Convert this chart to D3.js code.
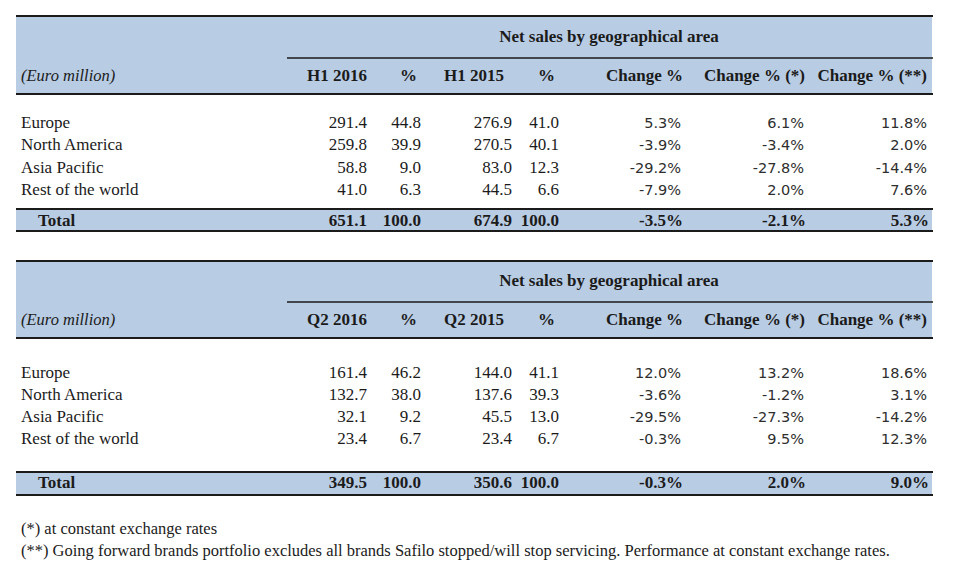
<!DOCTYPE html>
<html>
<head>
<meta charset="utf-8">
<script src="https://cdn.jsdelivr.net/npm/d3@7"></script>
<style>
  html, body { margin: 0; padding: 0; background: #fff; }
  svg { display: block; }
</style>
</head>
<body>
<svg id="chart" width="954" height="572"></svg>
<script>
// ---------------- DATA ----------------
const regions = ["Europe", "North America", "Asia Pacific", "Rest of the world"];
const columnKeys = ["cur", "curPct", "prev", "prevPct", "chg", "chgConst", "chgFwd"];
const title = "Net sales by geographical area";
const unitLabel = "(Euro million)";

const h1Headers = ["H1 2016", "%", "H1 2015", "%", "Change %", "Change % (*)", "Change % (**)"];
const h1Sales2016 = [291.4, 259.8, 58.8, 41.0];
const h1Pct2016 = [44.8, 39.9, 9.0, 6.3];
const h1Sales2015 = [276.9, 270.5, 83.0, 44.5];
const h1Pct2015 = [41.0, 40.1, 12.3, 6.6];
const h1Change = [5.3, -3.9, -29.2, -7.9];
const h1ChangeConst = [6.1, -3.4, -27.8, 2.0];
const h1ChangeFwd = [11.8, 2.0, -14.4, 7.6];
const h1Total = [651.1, 100.0, 674.9, 100.0, -3.5, -2.1, 5.3];

const q2Headers = ["Q2 2016", "%", "Q2 2015", "%", "Change %", "Change % (*)", "Change % (**)"];
const q2Sales2016 = [161.4, 132.7, 32.1, 23.4];
const q2Pct2016 = [46.2, 38.0, 9.2, 6.7];
const q2Sales2015 = [144.0, 137.6, 45.5, 23.4];
const q2Pct2015 = [41.1, 39.3, 13.0, 6.7];
const q2Change = [12.0, -3.6, -29.5, -0.3];
const q2ChangeConst = [13.2, -1.2, -27.3, 9.5];
const q2ChangeFwd = [18.6, 3.1, -14.2, 12.3];
const q2Total = [349.5, 100.0, 350.6, 100.0, -0.3, 2.0, 9.0];

const footnotes = [
  "(*) at constant exchange rates",
  "(**) Going forward brands portfolio excludes all brands Safilo stopped/will stop servicing. Performance at constant exchange rates."
];

// ---------------- LAYOUT ----------------
const svg = d3.select("#chart");
const W = 954;
const tableLeft = 16, tableRight = 933, subLineLeft = 287;
const blue = "#b8cce4", ink = "#1b1b1b", sansInk = "#2e2e2e";
const serif = "'Liberation Serif', 'Times New Roman', serif";
const sans = "'DejaVu Sans', Verdana, sans-serif";

const loc = d3.formatLocale({decimal: ".", thousands: ",", grouping: [3], currency: ["", ""], minus: "-"});
const f1 = loc.format(".1f");
const fPct = v => f1(v) + "%";

const colX = d3.scaleOrdinal().domain(columnKeys).range([367, 421, 512, 559, 681, 804, 927]);
const headX = d3.scaleOrdinal().domain(columnKeys).range([367, 417, 504, 555, 683, 805, 927]);
const isChange = k => k.startsWith("chg");

function drawTable(cfg) {
  const g = svg.append("g");
  const rowY = d3.scalePoint().domain(regions).range([cfg.firstRow, cfg.firstRow + 3 * cfg.step]);

  // header band
  g.append("rect").attr("x", tableLeft).attr("y", cfg.top)
    .attr("width", tableRight - tableLeft - 1).attr("height", cfg.headBottom - cfg.top).attr("fill", blue);
  // total band
  g.append("rect").attr("x", tableLeft).attr("y", cfg.totalTop)
    .attr("width", tableRight - tableLeft - 1).attr("height", cfg.totalBottom - cfg.totalTop).attr("fill", blue);

  const hline = (x1, x2, y, w) => g.append("line").attr("x1", x1).attr("x2", x2)
    .attr("y1", y).attr("y2", y).attr("stroke", ink).attr("stroke-width", w);
  hline(tableLeft, tableRight, cfg.top, 2);
  hline(subLineLeft, tableRight, cfg.subLine, 1.6);
  hline(tableLeft, tableRight, cfg.headBottom, 2);
  hline(tableLeft, tableRight, cfg.totalTop, 2);
  hline(tableLeft, tableRight, cfg.totalBottom, 2);

  // title
  g.append("text").attr("x", (subLineLeft + tableRight) / 2 - 1).attr("y", cfg.titleBase)
    .attr("text-anchor", "middle").attr("font-family", serif).attr("font-weight", "bold")
    .attr("font-size", 17).attr("fill", ink).text(title);

  // unit label
  g.append("text").attr("x", 21).attr("y", cfg.headBase)
    .attr("font-family", serif).attr("font-style", "italic").attr("font-size", 16.5)
    .attr("fill", ink).text(unitLabel);

  // column headers
  g.selectAll("text.head").data(columnKeys).join("text").attr("class", "head")
    .attr("x", k => headX(k)).attr("y", cfg.headBase).attr("text-anchor", "end")
    .attr("font-family", serif).attr("font-weight", "bold").attr("font-size", 17)
    .attr("fill", ink).text((k, i) => cfg.headers[i]);

  // region labels
  g.selectAll("text.region").data(regions).join("text").attr("class", "region")
    .attr("x", 21).attr("y", d => rowY(d)).attr("font-family", serif)
    .attr("font-size", 17).attr("fill", ink).text(d => d);

  // cells
  columnKeys.forEach((k, ci) => {
    const vals = cfg.columns[ci];
    g.selectAll("text.c" + ci).data(vals).join("text").attr("class", "c" + ci)
      .attr("x", colX(k)).attr("y", (v, i) => rowY(regions[i]))
      .attr("text-anchor", "end")
      .attr("font-family", isChange(k) ? sans : serif)
      .attr("font-size", isChange(k) ? 14.5 : 17)
      .attr("fill", isChange(k) ? sansInk : ink)
      .text(v => isChange(k) ? fPct(v) : f1(v));
  });

  // total row
  g.append("text").attr("x", 38).attr("y", cfg.totalBase).attr("font-family", serif)
    .attr("font-weight", "bold").attr("font-size", 17).attr("fill", ink).text("Total");
  g.selectAll("text.tot").data(cfg.total).join("text").attr("class", "tot")
    .attr("x", (v, i) => colX(columnKeys[i]) + (isChange(columnKeys[i]) ? 2 : 0))
    .attr("y", cfg.totalBase).attr("text-anchor", "end")
    .attr("font-family", serif).attr("font-weight", "bold").attr("font-size", 17)
    .attr("fill", ink).text((v, i) => isChange(columnKeys[i]) ? fPct(v) : f1(v));
}

drawTable({
  top: 16, titleBase: 42, subLine: 58, headBase: 81, headBottom: 94,
  firstRow: 128, step: 22.3, totalTop: 209, totalBottom: 231, totalBase: 226,
  headers: h1Headers,
  columns: [h1Sales2016, h1Pct2016, h1Sales2015, h1Pct2015, h1Change, h1ChangeConst, h1ChangeFwd],
  total: h1Total
});

drawTable({
  top: 261, titleBase: 286, subLine: 302, headBase: 325, headBottom: 338,
  firstRow: 377.5, step: 22.1, totalTop: 472, totalBottom: 495, totalBase: 488,
  headers: q2Headers,
  columns: [q2Sales2016, q2Pct2016, q2Sales2015, q2Pct2015, q2Change, q2ChangeConst, q2ChangeFwd],
  total: q2Total
});

svg.selectAll("text.note").data(footnotes).join("text").attr("class", "note")
  .attr("x", 21).attr("y", (d, i) => 534 + i * 22)
  .attr("font-family", serif).attr("font-size", 16.5).attr("fill", ink).text(d => d);
</script>
</body>
</html>
